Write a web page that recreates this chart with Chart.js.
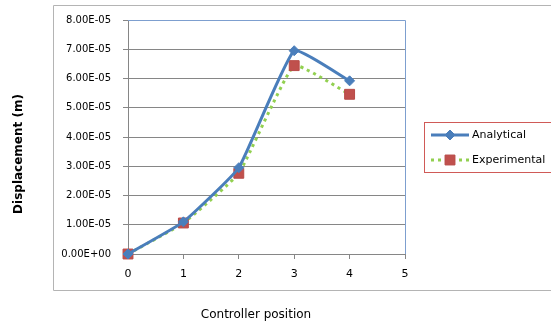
<!DOCTYPE html>
<html>
<head>
<meta charset="utf-8">
<script src="https://cdn.jsdelivr.net/npm/chart.js@4/dist/chart.umd.min.js"></script>
<style>
    html, body { margin: 0; padding: 0; background: #fff; }
    #wrap { width: 551px; height: 327px; position: relative; }
</style>
</head>
<body>
<div id="wrap"><canvas id="chart"></canvas></div>
<script>
// controller positions and measured / computed displacement (m)
const positions = [0, 1, 2, 3, 4];
const analytical = [0, 1.1e-5, 2.95e-5, 6.95e-5, 5.92e-5];
const experimental = [0, 1.06e-5, 2.76e-5, 6.44e-5, 5.46e-5];
const seriesNames = ['Analytical', 'Experimental'];
const xTitle = 'Controller position';
const yTitle = 'Displacement (m)';

const FONT = '"DejaVu Sans", sans-serif';

// Excel-style scientific label: 8.00E-05, 0.00E+00
function sci(v) {
    if (Math.abs(v) < 1e-12) return '0.00E+00';
    const [m, e] = v.toExponential(2).split('e');
    const n = parseInt(e, 10);
    const sign = n < 0 ? '-' : '+';
    return m + 'E' + sign + String(Math.abs(n)).padStart(2, '0');
}

const toXY = (arr) => arr.map((v, i) => ({ x: positions[i], y: v }));

// frame, plot border, axis titles and legend box
const decorations = {
    id: 'decorations',
    afterDraw(chart) {
        const ctx = chart.ctx;
        const a = chart.chartArea;
        ctx.save();

        // outer chart frame
        ctx.strokeStyle = '#b4b4b4';
        ctx.lineWidth = 1;
        ctx.beginPath();
        ctx.moveTo(560, 5.5);
        ctx.lineTo(53.5, 5.5);
        ctx.lineTo(53.5, 290.5);
        ctx.lineTo(560, 290.5);
        ctx.stroke();

        // plot area border top and right
        ctx.strokeStyle = '#7d9fcf';
        ctx.beginPath();
        ctx.moveTo(a.left, Math.round(a.top) + 0.5);
        ctx.lineTo(Math.round(a.right) + 0.5, Math.round(a.top) + 0.5);
        ctx.lineTo(Math.round(a.right) + 0.5, a.bottom);
        ctx.stroke();

        // axis titles
        ctx.fillStyle = '#000';
        ctx.textAlign = 'center';
        ctx.textBaseline = 'middle';
        ctx.font = '12px ' + FONT;
        ctx.fillText(xTitle, 256, 315);
        ctx.save();
        ctx.translate(19, 154);
        ctx.rotate(-Math.PI / 2);
        ctx.font = 'bold 12px ' + FONT;
        ctx.fillText(yTitle, 0, 0);
        ctx.restore();

        // legend
        ctx.strokeStyle = '#d05a57';
        ctx.lineWidth = 1;
        ctx.strokeRect(424.5, 122.5, 140, 50);
        ctx.font = '11px ' + FONT;
        ctx.textAlign = 'left';
        const rows = [135, 160];
        chart.data.datasets.forEach((ds, i) => {
            const y = rows[i];
            ctx.save();
            ctx.strokeStyle = ds.borderColor;
            ctx.lineWidth = ds.borderWidth;
            ctx.setLineDash(ds.borderDash || []);
            ctx.beginPath();
            ctx.moveTo(431, y);
            ctx.lineTo(469, y);
            ctx.stroke();
            ctx.restore();
            ctx.save();
            ctx.fillStyle = ds.pointBackgroundColor;
            ctx.strokeStyle = ds.pointBorderColor;
            ctx.lineWidth = 1;
            Chart.helpers.drawPoint(ctx, {
                pointStyle: ds.pointStyle,
                radius: ds.pointRadius,
                borderWidth: 1
            }, 450, y);
            ctx.restore();
            ctx.fillStyle = '#000';
            ctx.fillText(ds.label, 472, y);
        });
        ctx.restore();
    }
};

new Chart(document.getElementById('chart'), {
    type: 'line',
    data: {
        datasets: [
            {
                label: seriesNames[0],
                data: toXY(analytical),
                borderColor: '#4a7ebb',
                backgroundColor: '#4a7ebb',
                borderWidth: 3,
                tension: 0.12,
                clip: false,
                pointStyle: 'rectRot',
                pointRadius: 5,
                pointBackgroundColor: '#4a7ebb',
                pointBorderColor: '#4a7ebb',
                pointBorderWidth: 1
            },
            {
                label: seriesNames[1],
                data: toXY(experimental),
                borderColor: '#92d050',
                backgroundColor: '#c0504d',
                borderWidth: 3,
                borderDash: [3, 4],
                tension: 0.12,
                clip: false,
                pointStyle: 'rect',
                pointRadius: 7,
                pointBackgroundColor: '#c0504d',
                pointBorderColor: '#b84a47',
                pointBorderWidth: 1
            }
        ]
    },
    options: {
        responsive: true,
        maintainAspectRatio: false,
        animation: false,
        layout: { padding: { left: 0, top: 20, right: 146, bottom: 0 } },
        plugins: {
            legend: { display: false },
            tooltip: { enabled: false }
        },
        scales: {
            x: {
                type: 'linear',
                min: 0,
                max: 5,
                ticks: {
                    stepSize: 1,
                    color: '#000',
                    padding: 9,
                    font: { family: FONT, size: 11 }
                },
                grid: {
                    drawOnChartArea: false,
                    tickLength: 5,
                    color: '#868686'
                },
                border: { color: '#868686' },
                afterFit(s) { s.height = 73; }
            },
            y: {
                min: 0,
                max: 8e-5,
                ticks: {
                    stepSize: 1e-5,
                    color: '#000',
                    padding: 12,
                    font: { family: FONT, size: 10 },
                    callback: (v) => sci(v)
                },
                grid: {
                    tickLength: 5,
                    color: '#868686'
                },
                border: { color: '#868686' },
                afterFit(s) { s.width = 128; }
            }
        }
    },
    plugins: [decorations]
});
</script>
</body>
</html>
